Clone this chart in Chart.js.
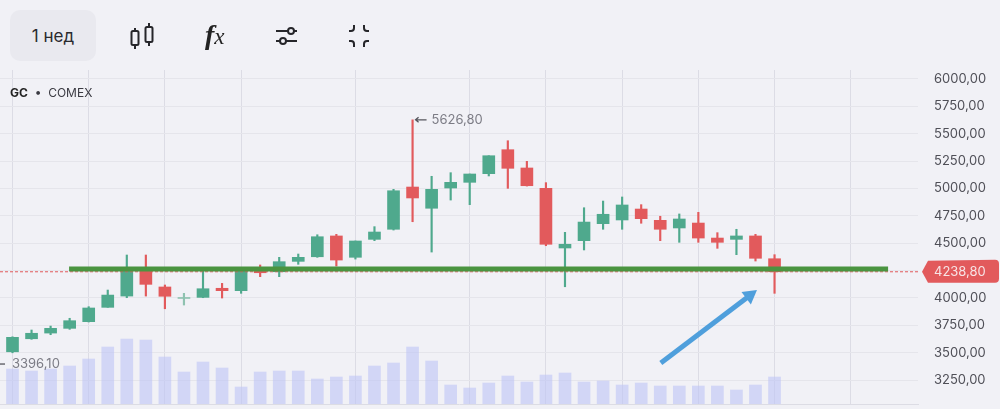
<!DOCTYPE html>
<html>
<head>
<meta charset="utf-8">
<script src="https://cdn.jsdelivr.net/npm/chart.js@4"></script>
<style>
html,body{margin:0;padding:0;background:#f1f1f6;width:1000px;height:409px;overflow:hidden}
#wrap{position:relative;width:1000px;height:409px;font-family:Inter,sans-serif}
canvas{position:absolute;left:0;top:0}
#btn{position:absolute;left:10px;top:10px;width:86px;height:51px;border-radius:10px;background:#e9e9ef;color:#2a2a2e;font-size:17px;line-height:52px;text-align:center}
#fx{position:absolute;left:205px;top:19px;font:italic bold 28px "Liberation Serif",serif;color:#222}
#fx span{font-size:23px;font-weight:normal;margin-left:0}
#sym{position:absolute;left:10px;top:85px;font-size:12px;color:#3a3a42;white-space:pre}
#sym b{font-weight:700;color:#222}
svg{position:absolute;left:0;top:0}
</style>
</head>
<body>
<div id="wrap">
<canvas id="c" width="1000" height="409"></canvas>
<div id="btn">1 нед</div>
<div id="fx">f<span>x</span></div>
<div id="sym"><b>GC</b>  •  COMEX</div>
<svg width="1000" height="70" fill="none" stroke="#26262a" stroke-width="2">
<path d="M135 28v3M135 45v4M149 23v4M149 42v4"/>
<rect x="131.5" y="31" width="7" height="14" rx="1.5"/>
<rect x="145.5" y="27" width="7" height="15" rx="1.5"/>
<path d="M276 31h12M294 31h3M276 41h4M286 41h11"/>
<circle cx="291" cy="31" r="3"/><circle cx="283" cy="41" r="3"/>
<path d="M349 31h2a3 3 0 0 0 3-3v-3M369 31h-2a3 3 0 0 1-3-3v-3M349 41h2a3 3 0 0 1 3 3v3M369 41h-2a3 3 0 0 0-3 3v3"/>
</svg>
</div>
<script>
const opens  = [3508,3627,3679,3722,3783,3914,4017,4255,4100,3995,4005,4088,4066,4249,4239,4334,4376,4566,4371,4535,4627,5013,4819,5004,5056,5135,5354,5187,5001,4456,4523,4678,4712,4812,4709,4639,4684,4547,4535,4566,4358];
const highs  = [3645,3707,3743,3814,3920,4072,4392,4392,4118,4042,4249,4133,4273,4301,4371,4401,4577,4581,4520,4651,4992,5626.8,5111,5144,5132,5299,5436,5248,5053,4599,4824,4885,4922,4852,4746,4767,4782,4596,4627,4581,4395];
const lows   = [3499,3622,3664,3713,3780,3914,4002,4017,3901,3935,4002,3999,4042,4194,4194,4307,4371,4291,4355,4523,4620,4696,4419,4894,4852,5114,5001,5022,4477,4102,4438,4627,4627,4682,4523,4508,4508,4453,4395,4337,4042];
const closes = [3640,3677,3722,3792,3908,4026,4273,4124,4015,4004,4084,4066,4249,4230,4331,4371,4559,4346,4520,4602,4979,4913,4992,5056,5132,5299,5184,5025,4490,4490,4693,4764,4849,4724,4627,4721,4547,4508,4566,4362,4238.8];
const volumes= [35,33,35,38,45,57,65,64,47,32,42,36,17,32,33,33,25,27,28,38,41,57,43,19,16,21,28,22,29,31,22,23,19,21,18,18,18,18,14,19,27];
const yTicks = [3250,3500,3750,4000,4250,4500,4750,5000,5250,5500,5750,6000];
const gridWeeks = [0,4,8,12,18,24,28,32,36,40,44];
const lastPrice = 4238.8;
const athPrice = 5626.8;
const lowPrice = 3396.1;
const levelLine = [{x:2.97,y:4264},{x:45.96,y:4264}];
const arrowLine = [{x:34.03,y:3405},{x:38.7,y:4022}];

const GREEN='#4fa98d', RED='#e25a5c', INK='#4f4f57';
const fmt = v => v.toFixed(2).replace('.',',');
const idx = opens.map((_,i)=>i);
const col = idx.map(i=>closes[i]>=opens[i]?GREEN:RED);
col[9]='#8fc2b0';
const XMIN=-0.656, XMAX=47.53;

const marks={id:'marks',afterDatasetsDraw(ch){
  const {ctx,scales:{x,y}}=ch;
  ctx.save();
  ctx.textBaseline='middle';ctx.textAlign='left';
  ctx.font='13px Inter, sans-serif';
  const hx=x.getPixelForValue(21), hy=y.getPixelForValue(athPrice);
  ctx.strokeStyle='#55555c';ctx.lineWidth=1.3;
  ctx.beginPath();ctx.moveTo(hx+3,hy);ctx.lineTo(hx+14,hy);ctx.moveTo(hx+6,hy-2.5);ctx.lineTo(hx+3,hy);ctx.lineTo(hx+6,hy+2.5);ctx.stroke();
  ctx.fillStyle='#7c7c85';
  ctx.fillText(fmt(athPrice),hx+19,hy);
  const ly=y.getPixelForValue(lowPrice);
  ctx.beginPath();ctx.moveTo(0,ly);ctx.lineTo(5,ly);ctx.stroke();
  ctx.fillText(fmt(lowPrice),12,ly);
  const py=y.getPixelForValue(lastPrice);
  ctx.fillStyle=RED;
  const l=922,b=928,r=999,t=py-12,bt=py+11,c=4;
  ctx.beginPath();ctx.moveTo(l,py);ctx.lineTo(b,t+1);ctx.lineTo(r-c,t);ctx.quadraticCurveTo(r,t,r,t+c);
  ctx.lineTo(r,bt-c);ctx.quadraticCurveTo(r,bt,r-c,bt);ctx.lineTo(b,bt);ctx.closePath();ctx.fill();
  ctx.fillStyle='#f7e4e6';
  ctx.fillText(fmt(lastPrice),934,py);
  ctx.restore();
}};

new Chart(document.getElementById('c'),{
  type:'bar',
  data:{datasets:[
    {type:'line',data:arrowLine,yAxisID:'y',order:0,borderColor:'#4f9fdc',borderWidth:5,fill:false,
      pointStyle:'triangle',pointRadius:[0,9],pointRotation:[0,53],pointBackgroundColor:'#4f9fdc',pointBorderWidth:0},
    {type:'line',data:levelLine,yAxisID:'y',order:1,borderColor:'#4a9440',borderWidth:5,pointRadius:0,fill:false},
    {type:'line',data:[{x:XMIN,y:lastPrice},{x:XMAX,y:lastPrice}],yAxisID:'y',order:2,borderColor:RED,borderWidth:1,borderDash:[3,2],pointRadius:0,fill:false},
    {data:idx.map(i=>({x:i,y:[opens[i],closes[i]]})),yAxisID:'y',order:3,backgroundColor:col,barThickness:12,grouped:false,minBarLength:1},
    {data:idx.map(i=>({x:i,y:[lows[i],highs[i]]})),yAxisID:'y',order:4,backgroundColor:col,barThickness:1.5,grouped:false},
    {data:idx.map(i=>({x:i,y:volumes[i]})),yAxisID:'v',order:5,backgroundColor:'rgba(190,197,245,0.62)',barThickness:12,grouped:false}
  ]},
  options:{
    responsive:false,animation:false,devicePixelRatio:1,
    layout:{autoPadding:false,padding:{top:70,bottom:5,left:0,right:0}},
    plugins:{legend:{display:false},tooltip:{enabled:false}},
    scales:{
      x:{type:'linear',min:XMIN,max:XMAX,offset:false,
        afterBuildTicks(s){s.ticks=gridWeeks.map(v=>({value:v}));},
        afterFit(s){s.height=0;},
        ticks:{display:false},border:{display:true,color:'#dcdce4'},
        grid:{offset:false,color:'#dcdce5',lineWidth:1,drawTicks:false}},
      y:{type:'linear',position:'right',min:3031,max:6082,
        afterBuildTicks(s){s.ticks=yTicks.map(v=>({value:v}));},
        afterFit(s){s.width=82;s.paddingTop=0;s.paddingBottom=0;},
        border:{display:false},
        grid:{color:'#e5e5eb',lineWidth:1,drawTicks:false},
        ticks:{padding:16,color:INK,font:{family:'Inter, sans-serif',size:13},callback:v=>fmt(v)}},
      v:{type:'linear',display:false,position:'right',min:0,max:334,
        afterFit(s){s.width=0;},
        grid:{display:false,drawTicks:false},ticks:{display:false}}
    }
  },
  plugins:[marks]
});
</script>
</body>
</html>
